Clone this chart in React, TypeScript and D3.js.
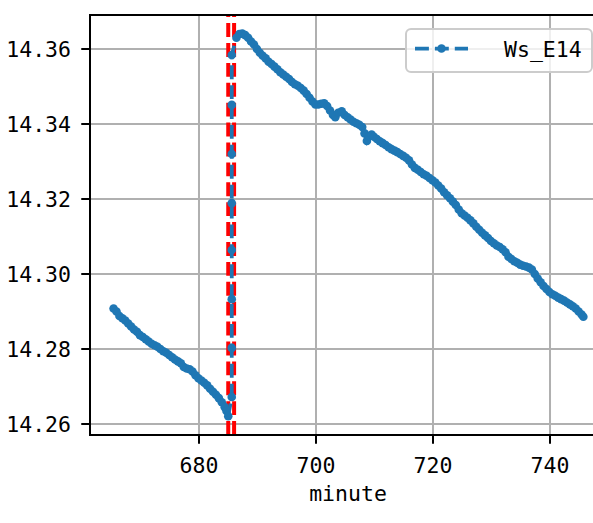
import React from "react";
import * as d3 from "d3";

const leftMinutes = [665.4, 665.9, 666.4, 666.9, 667.4, 667.9, 668.4, 668.9, 669.4, 669.9, 670.4, 670.9, 671.4, 671.9, 672.4, 672.9, 673.4, 673.9, 674.4, 674.9, 675.4, 675.9, 676.4, 676.9, 677.4, 677.9, 678.4, 678.9, 679.4, 679.9, 680.4, 680.9, 681.4, 681.9, 682.4, 682.9, 683.4, 683.9, 684.4, 684.7, 685.0];
const leftValues = [14.2908, 14.29, 14.2888, 14.2882, 14.2876, 14.2868, 14.286, 14.2852, 14.2846, 14.2837, 14.2832, 14.2826, 14.282, 14.2814, 14.281, 14.2806, 14.28, 14.2794, 14.279, 14.2784, 14.2778, 14.2772, 14.2767, 14.2762, 14.2752, 14.2748, 14.2746, 14.274, 14.273, 14.2722, 14.2716, 14.271, 14.2703, 14.2694, 14.2686, 14.2678, 14.2669, 14.2658, 14.2645, 14.2635, 14.2621];

const jumpMinutes = [685.6, 685.6, 685.6, 685.6, 685.6, 685.6, 685.6, 685.6];
const jumpValues = [14.2672, 14.2803, 14.2933, 14.3064, 14.3189, 14.332, 14.3451, 14.3584];

const rightMinutes = [686.4, 686.9, 687.4, 687.9, 688.4, 688.9, 689.4, 689.9, 690.4, 690.9, 691.4, 691.9, 692.4, 692.9, 693.4, 693.9, 694.4, 694.9, 695.4, 695.9, 696.4, 696.9, 697.4, 697.9, 698.4, 698.9, 699.4, 699.9, 700.4, 700.9, 701.4, 701.9, 702.4, 702.9, 703.3, 703.8, 704.4, 704.9, 705.4, 705.9, 706.4, 706.9, 707.4, 707.9, 708.3, 708.7, 709.1, 709.5, 709.9, 710.4, 710.9, 711.4, 711.9, 712.4, 712.9, 713.4, 713.9, 714.4, 714.9, 715.4, 715.9, 716.4, 716.9, 717.4, 717.9, 718.4, 718.9, 719.4, 719.9, 720.4, 720.9, 721.4, 721.9, 722.4, 722.9, 723.4, 723.9, 724.4, 724.9, 725.4, 725.9, 726.4, 726.9, 727.4, 727.9, 728.4, 728.9, 729.4, 729.9, 730.4, 730.9, 731.4, 731.9, 732.4, 732.9, 733.4, 733.9, 734.4, 734.9, 735.4, 735.9, 736.4, 736.9, 737.4, 737.9, 738.4, 738.9, 739.4, 739.9, 740.4, 740.9, 741.4, 741.9, 742.4, 742.9, 743.4, 743.9, 744.4, 744.9, 745.4, 745.7];
const rightValues = [14.363, 14.364, 14.3641, 14.3637, 14.363, 14.362, 14.3612, 14.36, 14.359, 14.3582, 14.3575, 14.3566, 14.356, 14.3553, 14.3546, 14.3538, 14.3532, 14.3526, 14.352, 14.3512, 14.3506, 14.3502, 14.3496, 14.3489, 14.348, 14.347, 14.346, 14.3452, 14.3452, 14.3454, 14.3455, 14.3448, 14.3436, 14.3424, 14.3418, 14.343, 14.3434, 14.3424, 14.3418, 14.3412, 14.3406, 14.3402, 14.3398, 14.3392, 14.3375, 14.3355, 14.3368, 14.3372, 14.3366, 14.336, 14.3354, 14.3349, 14.3344, 14.3338, 14.3333, 14.3329, 14.3325, 14.332, 14.3315, 14.331, 14.3303, 14.3292, 14.3283, 14.3278, 14.3272, 14.3266, 14.3262, 14.3256, 14.325, 14.3244, 14.3236, 14.3228, 14.3218, 14.321, 14.3202, 14.3193, 14.3184, 14.3172, 14.3162, 14.3156, 14.315, 14.3143, 14.3135, 14.3126, 14.3118, 14.311, 14.3103, 14.3096, 14.3088, 14.3082, 14.3076, 14.3072, 14.3066, 14.3058, 14.3046, 14.304, 14.3034, 14.303, 14.3025, 14.3022, 14.302, 14.3017, 14.3012, 14.3, 14.2988, 14.2978, 14.2968, 14.296, 14.2952, 14.2946, 14.2942, 14.2937, 14.2933, 14.2929, 14.2924, 14.2919, 14.2914, 14.2908, 14.29, 14.2892, 14.2886];

const markerLines = [685.0, 686.0];
const xTicks = [680, 700, 720, 740];
const yTicks = [14.26, 14.28, 14.3, 14.32, 14.34, 14.36];
const seriesName = "Ws_E14";
const xLabel = "minute";

const W = 593;
const H = 523;
const L = 90, R = 606, T = 15, B = 435;
const FONT = "'DejaVu Sans Mono', monospace";
const FS = 21.5;
const BLUE = "#1f77b4";
const MR = 4.3;

export default function App() {
  const minutes = [...leftMinutes, ...jumpMinutes, ...rightMinutes];
  const values = [...leftValues, ...jumpValues, ...rightValues];
  const data = minutes.map((m, i) => ({ m, v: values[i] }));

  const x = d3.scaleLinear().domain([661.37, 749.57]).range([L, R]);
  const y = d3.scaleLinear().domain([14.25707, 14.36907]).range([B, T]);

  const line = d3
    .line<{ m: number; v: number }>()
    .x((d) => x(d.m))
    .y((d) => y(d.v));

  return (
    <svg
      width={W}
      height={H}
      style={{ position: "absolute", left: 0, top: 0, background: "#fff" }}
      fontFamily={FONT}
    >
      <defs>
        <clipPath id="plot">
          <rect x={L} y={T} width={R - L} height={B - T} />
        </clipPath>
      </defs>
      <rect x={0} y={0} width={W} height={H} fill="#fff" />
      {/* grid */}
      <g stroke="#b0b0b0" strokeWidth={2}>
        {xTicks.map((t) => (
          <line key={"gx" + t} x1={x(t)} x2={x(t)} y1={T} y2={B} />
        ))}
        {yTicks.map((t) => (
          <line key={"gy" + t} x1={L} x2={R} y1={y(t)} y2={y(t)} />
        ))}
      </g>
      <g clipPath="url(#plot)">
        {markerLines.map((m) => (
          <line
            key={"r" + m}
            x1={x(m)}
            x2={x(m)}
            y1={B}
            y2={T}
            stroke="red"
            strokeWidth={4}
            strokeDasharray="13.9 6"
          />
        ))}
        <path
          d={line(data) || ""}
          fill="none"
          stroke={BLUE}
          strokeWidth={3.75}
          strokeDasharray="13.9 6"
        />
        {data.map((d, i) => (
          <circle key={i} cx={x(d.m)} cy={y(d.v)} r={MR} fill={BLUE} />
        ))}
      </g>
      {/* spines */}
      <g stroke="#000" strokeWidth={2} fill="none">
        <rect x={L} y={T} width={R - L} height={B - T} />
      </g>
      {/* ticks */}
      <g stroke="#000" strokeWidth={2}>
        {xTicks.map((t) => (
          <line key={"tx" + t} x1={x(t)} x2={x(t)} y1={B} y2={B + 8.75} />
        ))}
        {yTicks.map((t) => (
          <line key={"ty" + t} x1={L - 8.75} x2={L} y1={y(t)} y2={y(t)} />
        ))}
      </g>
      <g fontSize={FS} fill="#000">
        {xTicks.map((t) => (
          <text key={"lx" + t} x={x(t)} y={473} textAnchor="middle">
            {String(t)}
          </text>
        ))}
        {yTicks.map((t) => (
          <text key={"ly" + t} x={71} y={y(t) + 8} textAnchor="end">
            {d3.format(".2f")(t)}
          </text>
        ))}
        <text x={(L + R) / 2} y={501} textAnchor="middle">
          {xLabel}
        </text>
      </g>
      {/* legend */}
      <g>
        <rect
          x={406}
          y={29}
          width={186}
          height={43}
          rx={5}
          fill="#fff"
          fillOpacity={0.8}
          stroke="#cccccc"
          strokeWidth={2}
        />
        <line
          x1={415}
          x2={468}
          y1={48.5}
          y2={48.5}
          stroke={BLUE}
          strokeWidth={3.75}
          strokeDasharray="13.9 6"
        />
        <circle cx={441.5} cy={48.5} r={MR} fill={BLUE} />
        <text x={504} y={57} fontSize={FS} fill="#000">
          {seriesName}
        </text>
      </g>
    </svg>
  );
}
